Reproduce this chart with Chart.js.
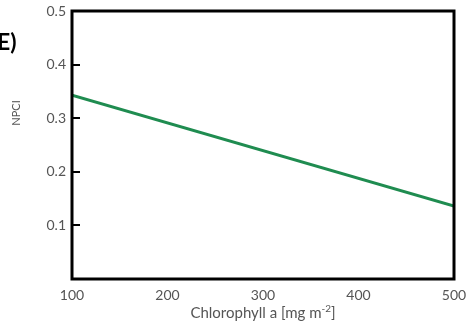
<!DOCTYPE html>
<html>
<head>
<meta charset="utf-8">
<script src="https://cdn.jsdelivr.net/npm/chart.js@4/dist/chart.umd.min.js"></script>
<style>
  html, body { margin: 0; padding: 0; background: #fff; }
  #wrap { width: 466px; height: 324px; position: relative; }
</style>
</head>
<body>
<div id="wrap"><canvas id="chart" width="466" height="324"></canvas></div>
<script>
// data
const chlorophyll = [100, 500];
const npci = [0.343, 0.136];
const xTicks = [100, 200, 300, 400, 500];
const yTicks = [0, 0.1, 0.2, 0.3, 0.4, 0.5];

const FONT = 'Lato, "Open Sans", sans-serif';

// frame, inward ticks and the extra texts
const framePlugin = {
    id: 'frame',
    afterDraw(chart) {
        const ctx = chart.ctx;
        const a = chart.chartArea;
        const yScale = chart.scales.y;
        ctx.save();
        ctx.strokeStyle = '#000';
        ctx.lineWidth = 3;
        ctx.strokeRect(a.left, a.top, a.right - a.left, a.bottom - a.top);

        // small inward ticks on the left axis
        ctx.lineWidth = 2;
        yTicks.forEach(v => {
            if (v === 0 || v === 0.5) return;
            const py = Math.round(yScale.getPixelForValue(v));
            ctx.beginPath();
            ctx.moveTo(a.left, py);
            ctx.lineTo(a.left + 8, py);
            ctx.stroke();
        });

        // panel letter
        ctx.fillStyle = '#000';
        ctx.font = 'bold 23px ' + FONT;
        ctx.textAlign = 'left';
        ctx.textBaseline = 'middle';
        ctx.fillText('E)', -3, 43);

        // y title
        ctx.save();
        ctx.translate(16, 113);
        ctx.rotate(-Math.PI / 2);
        ctx.fillStyle = '#555';
        ctx.font = '11px ' + FONT;
        ctx.textAlign = 'center';
        ctx.fillText('NPCI', 0, 0);
        ctx.restore();

        // x title with superscript
        ctx.fillStyle = '#555';
        ctx.textBaseline = 'alphabetic';
        const main = 'Chlorophyll a [mg m';
        const sup = '-2';
        const end = ']';
        ctx.font = '15px ' + FONT;
        const wMain = ctx.measureText(main).width;
        const wEnd = ctx.measureText(end).width;
        ctx.font = '10px ' + FONT;
        const wSup = ctx.measureText(sup).width;
        let x = 263 - (wMain + wSup + wEnd) / 2;
        const base = 318;
        ctx.font = '15px ' + FONT;
        ctx.textAlign = 'left';
        ctx.fillText(main, x, base);
        x += wMain;
        ctx.font = '10px ' + FONT;
        ctx.fillText(sup, x, base - 6);
        x += wSup;
        ctx.font = '15px ' + FONT;
        ctx.fillText(end, x, base);
        ctx.restore();
    }
};

new Chart(document.getElementById('chart'), {
    type: 'line',
    data: {
        datasets: [{
            data: chlorophyll.map((c, i) => ({ x: c, y: npci[i] })),
            borderColor: '#1f8c50',
            borderWidth: 3,
            pointRadius: 0,
            fill: false,
            tension: 0
        }]
    },
    options: {
        responsive: false,
        animation: false,
        layout: { padding: { left: 0, right: 12, top: 11, bottom: 0 } },
        plugins: { legend: { display: false }, tooltip: { enabled: false } },
        scales: {
            x: {
                type: 'linear',
                min: 100,
                max: 500,
                afterBuildTicks: s => { s.ticks = xTicks.map(v => ({ value: v })); },
                afterFit: s => { s.height = 45; s.paddingLeft = 0; s.paddingRight = 0; },
                grid: { display: false, drawTicks: false },
                border: { display: false },
                ticks: {
                    color: '#555',
                    font: { family: FONT, size: 14 },
                    padding: 8,
                    maxRotation: 0
                }
            },
            y: {
                min: 0,
                max: 0.5,
                afterBuildTicks: s => { s.ticks = yTicks.map(v => ({ value: v })); },
                afterFit: s => { s.width = 72; s.paddingTop = 0; s.paddingBottom = 0; },
                grid: { display: false, drawTicks: false },
                border: { display: false },
                ticks: {
                    color: '#555',
                    font: { family: FONT, size: 14 },
                    padding: 6,
                    callback: v => v === 0 ? '' : v.toFixed(1)
                }
            }
        }
    },
    plugins: [framePlugin]
});
</script>
</body>
</html>
